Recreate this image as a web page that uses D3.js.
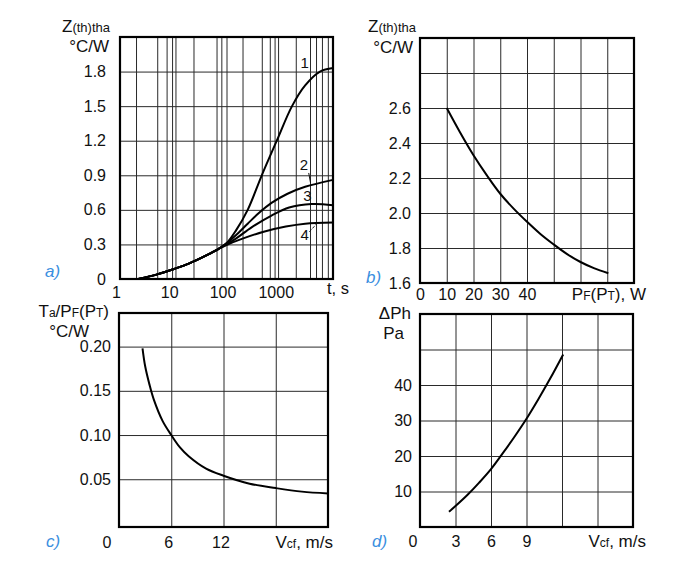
<!DOCTYPE html>
<html><head><meta charset="utf-8">
<script src="https://cdn.jsdelivr.net/npm/d3@7"></script>
<style>body{margin:0;background:#fff}</style>
</head><body><svg id="c" width="700" height="580"></svg>
<script>
// ---------- DATA ----------
// Panel a) transient thermal impedance vs time (log scale)
const aGridT = [2, 5, 7.5, 9.5, 11, 24, 65, 80, 100, 200, 460, 650, 800, 930, 2000, 3700, 4800, 6200, 8000];
const aTickT = [1, 10, 100, 1000];
const aTickZ = [0, 0.3, 0.6, 0.9, 1.2, 1.5, 1.8];
const commonT = [2.2, 5, 10, 20, 40, 70];
const commonZ = [0, 0.04, 0.085, 0.135, 0.2, 0.26];
const curve1T = [100, 150, 250, 460, 880, 1700, 3000, 5700, 10000];
const curve1Z = [0.31, 0.42, 0.60, 0.90, 1.20, 1.50, 1.68, 1.80, 1.83];
const curve2T = [100, 150, 250, 400, 700, 1400, 3000, 10000];
const curve2Z = [0.31, 0.38, 0.48, 0.57, 0.66, 0.74, 0.80, 0.86];
const curve3T = [100, 150, 300, 700, 1500, 4000, 10000];
const curve3Z = [0.30, 0.35, 0.45, 0.55, 0.62, 0.65, 0.64];
const curve4T = [100, 200, 500, 1300, 3000, 10000];
const curve4Z = [0.295, 0.35, 0.41, 0.455, 0.48, 0.49];
const curveNames = ["1", "2", "3", "4"];
const nameT = [2950, 2850, 3300, 2950];
const nameZ = [1.88, 0.99, 0.72, 0.38];

// Panel b) Z vs power
const bTickP = [0, 10, 20, 30, 40];
const bGridP = [10, 20, 30, 40, 50, 60, 70];
const bTickZ = [1.6, 1.8, 2.0, 2.2, 2.4, 2.6];
const bGridZ = [1.8, 2.0, 2.2, 2.4, 2.6, 2.8];
const bP = [10, 15, 20, 25, 30, 35, 40, 45, 50, 55, 60, 65, 70.4];
const bZ = [2.6, 2.46, 2.33, 2.215, 2.11, 2.025, 1.95, 1.88, 1.82, 1.765, 1.72, 1.685, 1.656];

// Panel c) Ta/PF vs air speed
const cTickV = [0, 6, 12];
const cGridV = [6, 12, 18];
const cTickR = [0.05, 0.10, 0.15, 0.20];
const cV = [2.7, 3, 3.5, 4, 5, 6, 7, 8, 10, 12, 15, 18, 21, 24];
const cR = [0.198, 0.178, 0.157, 0.140, 0.116, 0.100, 0.086, 0.076, 0.062, 0.054, 0.045, 0.040, 0.036, 0.034];

// Panel d) pressure drop vs air speed
const dTickV = [0, 3, 6, 9];
const dGridV = [3, 6, 9, 12, 15];
const dTickP = [10, 20, 30, 40];
const dGridP = [10, 20, 30, 40, 50];
const dV = [2.45, 3, 4, 5, 6, 7, 8, 9, 10, 11, 12.1];
const dP = [4.3, 5.9, 9.0, 12.5, 16.3, 20.8, 25.5, 30.5, 36, 41.8, 48.6];

// ---------- DRAWING ----------
const FONT = '"Liberation Sans", Arial, Helvetica, sans-serif';
const svg = d3.select("#c");
const GRID = "#2a2a2a";
const BLUE = "#3b8fe0";
const TICK_FS = 16;

function zip(xs, ys) { return xs.map((x, i) => [x, ys[i]]); }

function panel(o) {
  const g = svg.append("g");
  const [x0, x1] = o.x.range(), [y1, y0] = o.y.range();
  const w = x1 - x0, h = y1 - y0;
  // grid
  g.append("g").attr("transform", `translate(0,${y1})`)
    .call(d3.axisBottom(o.x).tickValues(o.xGrid).tickSize(-h).tickFormat(""))
    .call(s => { s.select(".domain").remove(); s.selectAll("line").attr("stroke", GRID).attr("stroke-width", 1); });
  g.append("g").attr("transform", `translate(${x0},0)`)
    .call(d3.axisLeft(o.y).tickValues(o.yGrid).tickSize(-w).tickFormat(""))
    .call(s => { s.select(".domain").remove(); s.selectAll("line").attr("stroke", GRID).attr("stroke-width", 1); });
  // tick labels
  g.append("g").attr("transform", `translate(0,${y1})`)
    .call(d3.axisBottom(o.x).tickValues(o.xTicks).tickSize(0).tickPadding(o.xPad).tickFormat(o.xFmt))
    .call(s => {
      s.select(".domain").remove();
      s.attr("font-family", FONT).attr("font-size", TICK_FS);
      s.selectAll("text").attr("fill", "#111").attr("dx", o.xDx || 0);
      if (o.zeroLeft) s.selectAll("text").filter(d => d === 0).attr("text-anchor", "end").attr("dx", o.zeroDx);
    });
  g.append("g").attr("transform", `translate(${x0},0)`)
    .call(d3.axisLeft(o.y).tickValues(o.yTicks).tickSize(0).tickPadding(o.yPad).tickFormat(o.yFmt))
    .call(s => { s.select(".domain").remove(); s.attr("font-family", FONT).attr("font-size", TICK_FS); s.selectAll("text").attr("fill", "#111"); });
  // curves
  const line = d3.line().x(d => o.x(d[0])).y(d => o.y(d[1])).curve(d3.curveCatmullRom.alpha(0.5));
  o.series.forEach(sr => {
    g.append("path").attr("d", line(sr)).attr("fill", "none").attr("stroke", "#000").attr("stroke-width", 2);
  });
  // frame
  g.append("rect").attr("x", x0).attr("y", y0).attr("width", w).attr("height", h)
    .attr("fill", "none").attr("stroke", "#000").attr("stroke-width", 2.2);
  // axis titles
  function rich(parts, x, y, anchor) {
    const t = g.append("text").attr("x", x).attr("y", y).attr("font-family", FONT)
      .attr("text-anchor", anchor || "start").attr("fill", "#111");
    parts.forEach(p => t.append("tspan").attr("font-size", p[1]).text(p[0]));
    return t;
  }
  o.titles.forEach(tt => rich(tt.parts, tt.x, tt.y, tt.anchor));
  // panel letter
  g.append("text").attr("x", o.letter[1]).attr("y", o.letter[2]).attr("font-family", FONT)
    .attr("font-size", 17).attr("font-style", "italic").attr("fill", BLUE).text(o.letter[0]);
  return g;
}

// Panel a
const xa = d3.scaleLog().domain([1, 10000]).range([120, 333]);
const ya = d3.scaleLinear().domain([0, 2.1]).range([279, 37]);
const commonPts = zip(commonT, commonZ);
const ga = panel({
  x: xa, y: ya, xGrid: aGridT, yGrid: aTickZ.slice(1), xTicks: aTickT, yTicks: aTickZ,
  xPad: 8, yPad: 14, xDx: -4, xFmt: d => String(d), yFmt: d => d === 0 ? "0" : d3.format(".1f")(d),
  series: [commonPts.concat(zip(curve1T, curve1Z)), commonPts.concat(zip(curve2T, curve2Z)),
           commonPts.concat(zip(curve3T, curve3Z)), commonPts.concat(zip(curve4T, curve4Z))],
  titles: [
    { parts: [["Z", 17], ["(th)tha", 13]], x: 110, y: 32, anchor: "end" },
    { parts: [["°C/W", 17]], x: 109, y: 52, anchor: "end" },
    { parts: [["t, s", 16.5]], x: 327, y: 294 }
  ],
  letter: ["a)", 45, 277]
});
curveNames.forEach((n, i) => {
  ga.append("text").attr("x", xa(nameT[i])).attr("y", ya(nameZ[i])).attr("dy", "0.35em")
    .attr("text-anchor", "middle").attr("font-family", FONT).attr("font-size", 15).attr("fill", "#111").text(n);
});
// leader lines for 2 and 4
ga.append("line").attr("x1", xa(3500)).attr("y1", ya(0.92)).attr("x2", xa(3800)).attr("y2", ya(0.83))
  .attr("stroke", "#111").attr("stroke-width", 1);
ga.append("line").attr("x1", xa(3600)).attr("y1", ya(0.41)).attr("x2", xa(5200)).attr("y2", ya(0.49))
  .attr("stroke", "#111").attr("stroke-width", 1).attr("stroke-dasharray", "3,1.5");

// Panel b
const xb = d3.scaleLinear().domain([0, 80]).range([420, 634]);
const yb = d3.scaleLinear().domain([1.6, 3.0]).range([283, 38]);
panel({
  x: xb, y: yb, xGrid: bGridP, yGrid: bGridZ, xTicks: bTickP, yTicks: bTickZ,
  xPad: 6, yPad: 9, xFmt: d => String(d), yFmt: d3.format(".1f"),
  series: [zip(bP, bZ)],
  titles: [
    { parts: [["Z", 17], ["(th)tha", 13]], x: 416, y: 32, anchor: "end" },
    { parts: [["°C/W", 17]], x: 413, y: 53, anchor: "end" },
    { parts: [["P", 17], ["F", 12], ["(P", 17], ["T", 12], ["), W", 17]], x: 646, y: 300, anchor: "end" }
  ],
  letter: ["b)", 366, 283]
});

// Panel c
const xc = d3.scaleLinear().domain([0, 24]).range([119, 328]);
const yc = d3.scaleLinear().domain([-0.004, 0.238]).range([527, 313]);
panel({
  x: xc, y: yc, xGrid: cGridV, yGrid: cTickR, xTicks: cTickV, yTicks: cTickR,
  xPad: 10, yPad: 8, xDx: -3, zeroLeft: true, zeroDx: -8, xFmt: d => String(d), yFmt: d3.format(".2f"),
  series: [zip(cV, cR)],
  titles: [
    { parts: [["T", 17], ["a", 12], ["/P", 17], ["F", 12], ["(P", 17], ["T", 12], [")", 17]], x: 109, y: 317, anchor: "end" },
    { parts: [["°C/W", 17]], x: 89, y: 337, anchor: "end" },
    { parts: [["V", 17], ["cf", 12], [", m/s", 17]], x: 333, y: 548, anchor: "end" }
  ],
  letter: ["c)", 46, 547]
});

// Panel d
const xd = d3.scaleLinear().domain([0, 18]).range([420, 633]);
const yd = d3.scaleLinear().domain([0, 60]).range([527, 314]);
panel({
  x: xd, y: yd, xGrid: dGridV, yGrid: dGridP, xTicks: dTickV, yTicks: dTickP,
  xPad: 9, yPad: 8, zeroLeft: true, zeroDx: -3, xFmt: d => String(d), yFmt: d => String(d),
  series: [zip(dV, dP)],
  titles: [
    { parts: [["ΔPh", 17]], x: 411, y: 319, anchor: "end" },
    { parts: [["Pa", 17]], x: 404, y: 339, anchor: "end" },
    { parts: [["V", 17], ["cf", 12], [", m/s", 17]], x: 646, y: 547, anchor: "end" }
  ],
  letter: ["d)", 372, 547]
});
</script>
</body></html>
